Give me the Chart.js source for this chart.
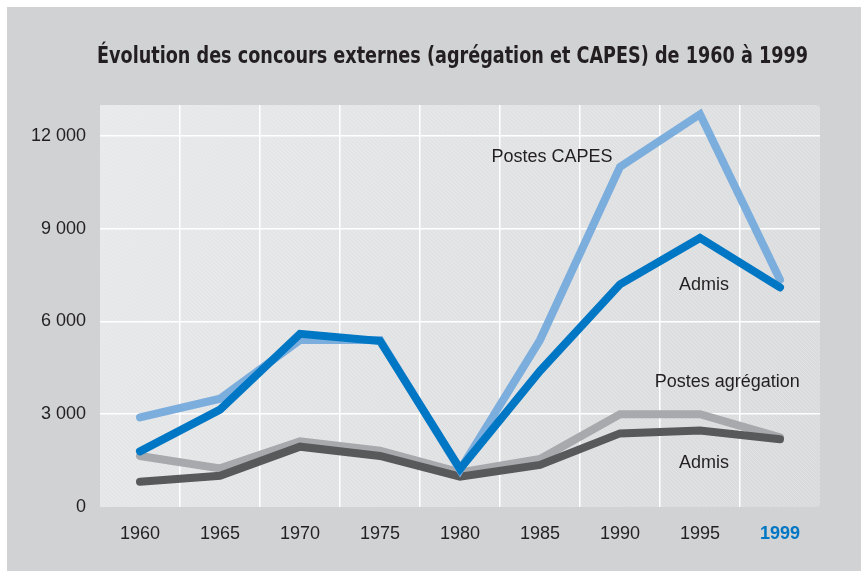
<!DOCTYPE html>
<html lang="fr">
<head>
<meta charset="utf-8">
<script src="https://cdn.jsdelivr.net/npm/chart.js@4"></script>
<style>
  html, body { margin: 0; padding: 0; background: #fff; }
  #wrap { width: 861px; height: 571px; position: relative; }
</style>
</head>
<body>
<div id="wrap"><canvas id="c"></canvas></div>
<script>
// Concours externes, agrégation et CAPES, 1960-1999
const years = ['1960', '1965', '1970', '1975', '1980', '1985', '1990', '1995', '1999'];
const postesCapes = [2900, 3500, 5400, 5400, 1200, 5400, 11000, 12700, 7350];
const admisCapes = [1800, 3150, 5600, 5370, 1230, 4400, 7200, 8700, 7100];
const postesAgreg = [1650, 1250, 2120, 1820, 1120, 1550, 3000, 3000, 2250];
const admisAgreg = [820, 1010, 1950, 1650, 980, 1360, 2380, 2470, 2190];
const yTicks = [0, 3000, 6000, 9000, 12000];

// in-chart labels: text, category position (fractional index), value
const noteText = ['Postes CAPES', 'Admis', 'Postes agrégation', 'Admis'];
const noteIdx = [5.15, 7.05, 7.34, 7.05];
const noteVal = [11320, 7180, 4040, 1420];

const TITLE = 'Évolution des concours externes (agrégation et CAPES) de 1960 à 1999';
const INK = '#231f20';
const FONT = "'Liberation Sans', Arial, Helvetica, sans-serif";

const fmt = (v) => String(v).replace(/\B(?=(\d{3})+(?!\d))/g, ' ');

// page background + hatched plot panel
const backdrop = {
  id: 'backdrop',
  beforeDraw(chart) {
    const { ctx, chartArea: a } = chart;
    ctx.save();
    ctx.fillStyle = '#fff';
    ctx.fillRect(0, 0, chart.width, chart.height);
    ctx.fillStyle = '#d1d2d4';
    ctx.fillRect(7, 7, chart.width - 7, chart.height - 7);

    const g = ctx.createLinearGradient(a.left, a.top, a.right, a.bottom);
    g.addColorStop(0, '#e8e9ea');
    g.addColorStop(1, '#d9dadc');
    ctx.beginPath();
    ctx.roundRect(a.left, a.top, a.right - a.left, a.bottom - a.top, [0, 4, 4, 0]);
    ctx.fillStyle = g;
    ctx.fill();
    ctx.clip();
    ctx.strokeStyle = 'rgba(255,255,255,0.2)';
    ctx.lineWidth = 1;
    const h = a.bottom - a.top;
    for (let x = a.left - h; x < a.right; x += 4) {
      ctx.beginPath();
      ctx.moveTo(x, a.top);
      ctx.lineTo(x + h, a.bottom);
      ctx.stroke();
    }
    ctx.restore();
  },
};

// condensed bold title, squeezed to the reference width
const titlePlugin = {
  id: 'titleText',
  afterDraw(chart) {
    const { ctx } = chart;
    ctx.save();
    ctx.font = "bold 23px 'DejaVu Sans Condensed', 'Liberation Sans Narrow', 'Liberation Sans', sans-serif";
    ctx.fillStyle = INK;
    ctx.textBaseline = 'middle';
    const w = ctx.measureText(TITLE).width;
    const target = 711;
    ctx.translate(97, 57);
    ctx.scale(target / w, 1);
    ctx.fillText(TITLE, 0, 0);
    ctx.restore();
  },
};

const notes = {
  id: 'notes',
  afterDatasetsDraw(chart) {
    const { ctx, scales: { x, y } } = chart;
    const step = x.getPixelForValue(1) - x.getPixelForValue(0);
    ctx.save();
    ctx.font = '18px ' + FONT;
    ctx.fillStyle = INK;
    ctx.textAlign = 'center';
    ctx.textBaseline = 'middle';
    noteText.forEach((t, i) => {
      const px = x.getPixelForValue(0) + noteIdx[i] * step;
      ctx.fillText(t, px, y.getPixelForValue(noteVal[i]));
    });
    ctx.restore();
  },
};

const line = (data, color, order) => ({
  data,
  borderColor: color,
  backgroundColor: color,
  borderWidth: 8,
  borderCapStyle: 'round',
  borderJoinStyle: 'miter',
  pointRadius: 0,
  tension: 0,
  order,
});

new Chart(document.getElementById('c'), {
  type: 'line',
  data: {
    labels: years,
    datasets: [
      line(admisCapes, '#0077c4', 0),
      line(postesCapes, '#7caedd', 1),
      line(admisAgreg, '#58595b', 2),
      line(postesAgreg, '#a7a9ac', 3),
    ],
  },
  plugins: [backdrop, titlePlugin, notes],
  options: {
    responsive: true,
    maintainAspectRatio: false,
    animation: false,
    layout: { padding: { top: 105, right: 41, left: 0, bottom: 0 } },
    plugins: {
      legend: { display: false },
      tooltip: { enabled: false },
      title: { display: false },
    },
    scales: {
      x: {
        offset: true,
        afterFit: (s) => { s.height = 64; },
        grid: {
          offset: true,
          drawTicks: false,
          lineWidth: 1.5,
          // hide the two outer lines (panel edges)
          color: (c) => (c.type !== 'tick' || c.index === 0 ? 'transparent' : '#ffffff'),
        },
        border: { display: false },
        ticks: {
          padding: 16,
          maxRotation: 0,
          color: (c) => (c.index === years.length - 1 ? '#0077c4' : INK),
          font: (c) => ({ family: FONT, size: 18, weight: c.index === years.length - 1 ? 'bold' : 'normal' }),
        },
      },
      y: {
        min: 0,
        max: 13000,
        afterFit: (s) => { s.width = 100; },
        afterBuildTicks: (s) => { s.ticks = yTicks.map((v) => ({ value: v })); },
        grid: {
          drawTicks: false,
          lineWidth: 1.5,
          color: (c) => (c.tick && c.tick.value === 0 ? 'transparent' : '#ffffff'),
        },
        border: { display: false },
        ticks: {
          padding: 14,
          color: INK,
          font: { family: FONT, size: 18 },
          callback: (v) => fmt(v),
        },
      },
    },
  },
});
</script>
</body>
</html>
